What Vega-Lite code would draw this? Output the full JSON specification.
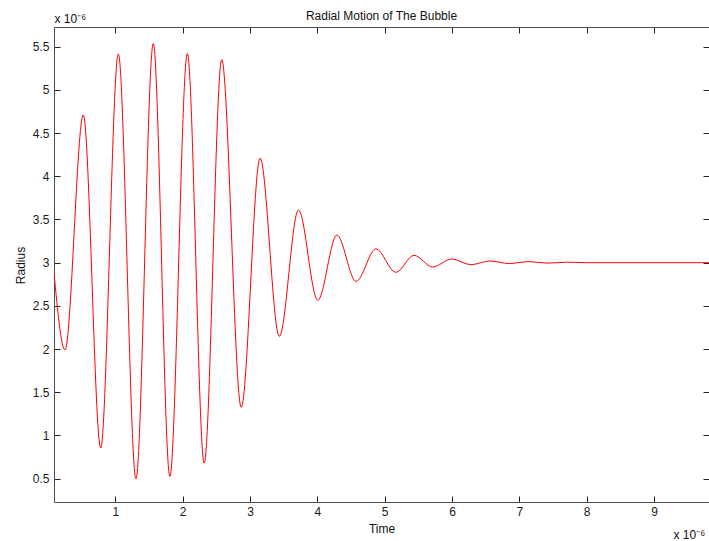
{
  "$schema": "https://vega.github.io/schema/vega-lite/v6.json",
  "width": 655,
  "height": 475,
  "autosize": "none",
  "padding": {"left": 54, "top": 27, "right": 0, "bottom": 39},
  "background": "#ffffff",
  "title": {
    "text": "Radial Motion of The Bubble",
    "font": "Liberation Sans",
    "fontSize": 12,
    "fontWeight": "normal",
    "color": "#111111",
    "anchor": "middle",
    "offset": -11
  },
  "config": {
    "view": {"stroke": null},
    "axis": {
      "labelFont": "Liberation Sans",
      "labelFontSize": 12,
      "labelColor": "#1a1a1a",
      "titleFont": "Liberation Sans",
      "titleFontSize": 12,
      "titleFontWeight": "normal",
      "titleColor": "#111111",
      "domainColor": "#4d4d4d",
      "domainWidth": 1,
      "tickColor": "#222222",
      "tickWidth": 1,
      "tickSize": -6,
      "grid": false
    }
  },
  "data": {
    "values": [
      {"t": 0.09, "r": 2.88},
      {"t": 0.253, "r": 1.99},
      {"t": 0.525, "r": 4.71},
      {"t": 0.783, "r": 0.855},
      {"t": 1.045, "r": 5.415},
      {"t": 1.307, "r": 0.497},
      {"t": 1.564, "r": 5.535},
      {"t": 1.81, "r": 0.527},
      {"t": 2.07, "r": 5.42},
      {"t": 2.32, "r": 0.68},
      {"t": 2.58, "r": 5.35},
      {"t": 2.87, "r": 1.325},
      {"t": 3.15, "r": 4.21},
      {"t": 3.435, "r": 2.147},
      {"t": 3.72, "r": 3.61},
      {"t": 4.006, "r": 2.564},
      {"t": 4.29, "r": 3.32},
      {"t": 4.575, "r": 2.784},
      {"t": 4.871, "r": 3.16},
      {"t": 5.164, "r": 2.888},
      {"t": 5.436, "r": 3.085},
      {"t": 5.713, "r": 2.95},
      {"t": 5.995, "r": 3.043},
      {"t": 6.28, "r": 2.977},
      {"t": 6.565, "r": 3.02},
      {"t": 6.85, "r": 2.99},
      {"t": 7.13, "r": 3.012},
      {"t": 7.42, "r": 2.995},
      {"t": 7.71, "r": 3.006},
      {"t": 8.0, "r": 3.0},
      {"t": 9.85, "r": 3.0}
    ]
  },
  "layer": [
    {
      "mark": {"type": "line", "color": "#ff0000", "strokeWidth": 1, "interpolate": "monotone", "clip": true},
      "encoding": {
        "x": {
          "field": "t", "type": "quantitative",
          "scale": {"domain": [0.0897, 9.816], "nice": false, "zero": false},
          "axis": {
            "orient": "bottom", "values": [1, 2, 3, 4, 5, 6, 7, 8, 9], "format": "d",
            "labelPadding": 10, "title": "Time",
            "titleX": 327.5, "titleY": 30, "titleBaseline": "alphabetic", "titleAlign": "center"
          }
        },
        "y": {
          "field": "r", "type": "quantitative",
          "scale": {"domain": [0.23, 5.728], "nice": false, "zero": false},
          "axis": {
            "orient": "left", "values": [0.5, 1, 1.5, 2, 2.5, 3, 3.5, 4, 4.5, 5, 5.5], "format": "~g",
            "labelPadding": 11, "title": "Radius",
            "titleX": -34, "titleY": 238, "titleAngle": -90, "titleBaseline": "middle", "titleAlign": "center"
          }
        }
      }
    },
    {
      "mark": {"type": "line", "strokeOpacity": 0, "interpolate": "monotone", "clip": true},
      "encoding": {
        "x": {
          "field": "t", "type": "quantitative",
          "scale": {"domain": [0.0897, 9.816], "nice": false, "zero": false},
          "axis": {
            "orient": "top", "values": [1, 2, 3, 4, 5, 6, 7, 8, 9], "labels": false,
            "title": "x 10⁻⁶", "titleX": 0, "titleY": -5, "titleAlign": "left", "titleBaseline": "alphabetic"
          }
        },
        "y": {
          "field": "r", "type": "quantitative",
          "scale": {"domain": [0.23, 5.728], "nice": false, "zero": false},
          "axis": {
            "orient": "right", "values": [0.5, 1, 1.5, 2, 2.5, 3, 3.5, 4, 4.5, 5, 5.5], "labels": false,
            "title": "x 10⁻⁶", "titleX": -36, "titleY": 511, "titleAngle": 0, "titleAlign": "left", "titleBaseline": "alphabetic"
          }
        }
      }
    }
  ],
  "resolve": {"axis": {"x": "independent", "y": "independent"}}
}
